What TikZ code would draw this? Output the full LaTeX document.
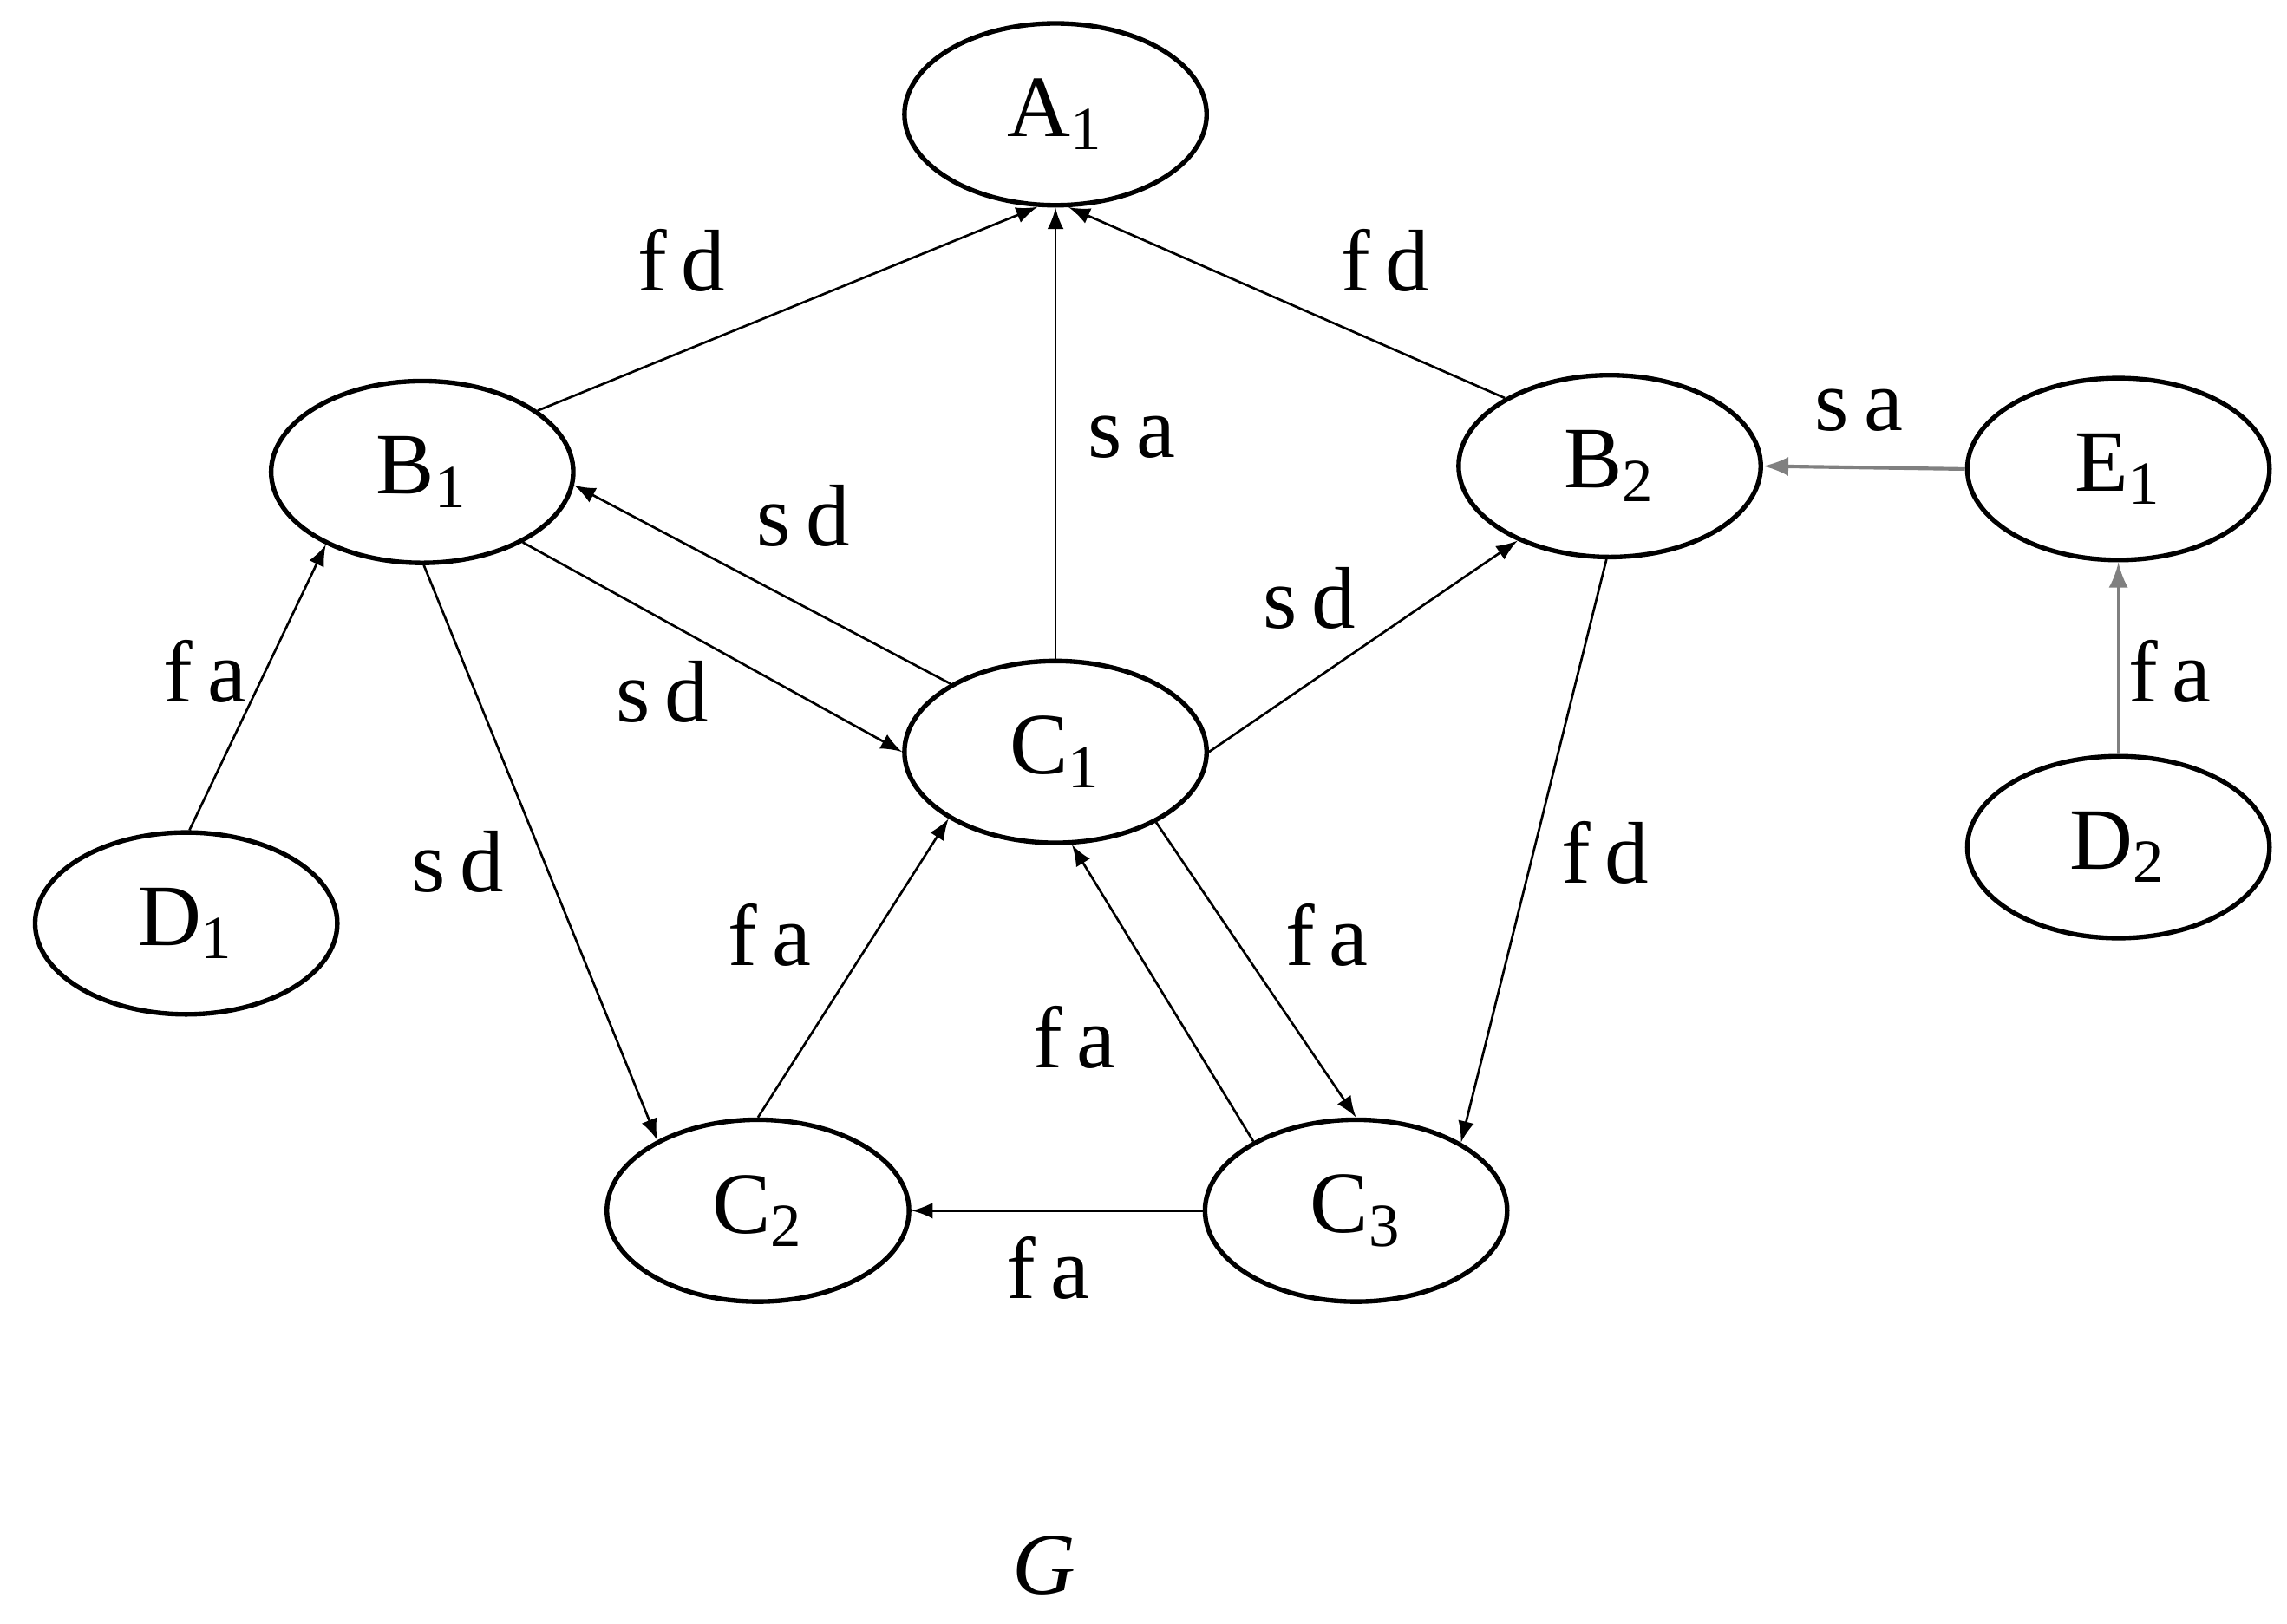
\documentclass[tikz,border=0pt]{standalone}
\usepackage{fontspec}
\setmainfont{Liberation Serif}
\usetikzlibrary{shapes.geometric}
\begin{document}
\begin{tikzpicture}[x=0.01cm,y=-0.01cm,
  st/.style={ellipse,draw,line width=0.9pt,minimum width=2.06cm,minimum height=1.24cm,inner sep=0pt,font=\fontsize{17}{20}\selectfont},
  lb/.style={inner sep=0pt,font=\fontsize{17}{20}\selectfont},
  ar/.style={-latex,line width=0.45pt}]
  \useasboundingbox (0,0) rectangle (1560,1108);
  \node[st] (A1) at (720,78) {A\textsubscript{1}};
  \node[st] (B1) at (288,322) {B\textsubscript{1}};
  \node[st] (B2) at (1098,318) {B\textsubscript{2}};
  \node[st] (E1) at (1445,320) {E\textsubscript{1}};
  \node[st] (C1) at (720,513) {C\textsubscript{1}};
  \node[st] (D1) at (127,630) {D\textsubscript{1}};
  \node[st] (D2) at (1445,578) {D\textsubscript{2}};
  \node[st] (C2) at (517,826) {C\textsubscript{2}};
  \node[st] (C3) at (925,826) {C\textsubscript{3}};
  % edges
  \draw[ar] (B1.28) -- (A1.-101);
  \draw[ar] (C1.90) -- (A1.-90);
  \draw[ar] (B2.147) -- (A1.-82);
  \draw[ar,gray,line width=0.7pt] (E1.180) -- (B2.0);
  \draw[ar,gray,line width=0.7pt] (D2.90) -- (E1.-90);
  \draw[ar] (D1.88) -- (B1.-143);
  \draw[ar] (C1.147) -- (B1.-5);
  \draw[ar] (B1.-35) -- (C1.180);
  \draw[ar] (C1.0) -- (B2.-141);
  \draw[ar] (B1.-89) -- (C2.145);
  \draw[ar] (B2.-92) -- (C3.33);
  \draw[ar] (C2.90) -- (C1.-148);
  \draw[ar] (C1.-35) -- (C3.90);
  \draw[ar] (C3.146) -- (C1.-80);
  \draw[ar] (C3.180) -- (C2.0);
  % labels
  \node[lb] (l1) at (465,178) {f\,d};
  \node[lb] (l2) at (772,298) {s\,a};
  \node[lb] (l3) at (945,178) {f\,d};
  \node[lb] (l4) at (1268,280) {s\,a};
  \node[lb] (l5) at (1480,458) {f\,a};
  \node[lb] (l6) at (140,458) {f\,a};
  \node[lb] (l7) at (548,352) {s\,d};
  \node[lb] (l8) at (452,472) {s\,d};
  \node[lb] (l9) at (893,408) {s\,d};
  \node[lb] (l10) at (312,588) {s\,d};
  \node[lb] (l11) at (1095,582) {f\,d};
  \node[lb] (l12) at (525,638) {f\,a};
  \node[lb] (l13) at (905,638) {f\,a};
  \node[lb] (l14) at (733,708) {f\,a};
  \node[lb] (l15) at (715,865) {f\,a};
  \node[lb] (G) at (712,1068) {\textit{G}};
\end{tikzpicture}
\end{document}
